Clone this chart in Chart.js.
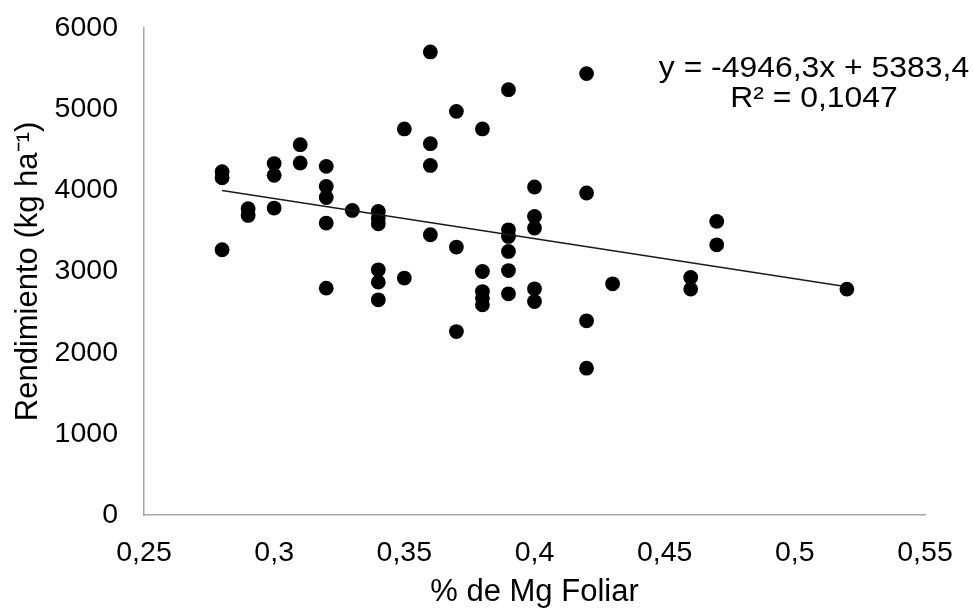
<!DOCTYPE html>
<html>
<head>
<meta charset="utf-8">
<script src="https://cdn.jsdelivr.net/npm/chart.js@4"></script>
<style>
  html, body { margin: 0; padding: 0; background: #fff; }
  #wrap { width: 975px; height: 608px; }
</style>
</head>
<body>
<div id="wrap"><canvas id="c" width="975" height="608"></canvas></div>
<script>
// % Mg foliar (x) and Rendimiento kg/ha (y)
const mgFoliar = [
  0.28, 0.28, 0.28,
  0.29, 0.29,
  0.30, 0.30, 0.30,
  0.31, 0.31,
  0.32, 0.32, 0.32, 0.32, 0.32,
  0.33,
  0.34, 0.34, 0.34, 0.34, 0.34, 0.34,
  0.35, 0.35,
  0.36, 0.36, 0.36, 0.36,
  0.37, 0.37, 0.37,
  0.38, 0.38, 0.38, 0.38, 0.38,
  0.39, 0.39, 0.39, 0.39, 0.39, 0.39,
  0.40, 0.40, 0.40, 0.40, 0.40,
  0.42, 0.42, 0.42, 0.42,
  0.43,
  0.46, 0.46,
  0.47, 0.47,
  0.52
];
const rendimiento = [
  4230, 4155, 3268,
  3773, 3691,
  4330, 4185, 3782,
  4562, 4337,
  4295, 4048, 3912, 3597, 2795,
  3752,
  3740, 3658, 3588, 3021, 2869, 2651,
  4756, 2919,
  5705, 4575, 4307, 3453,
  4973, 3301, 2260,
  4756, 3000, 2753, 2672, 2589,
  5240, 3514, 3432, 3247, 3012, 2725,
  4041, 3678, 3535, 2787, 2630,
  5438, 3967, 2392, 1809,
  2848,
  2926, 2783,
  3617, 3329,
  2783
];
// Linear trend line endpoints
const trendX = [0.28, 0.52];
const trendY = [3998, 2811];
const eqLabels = ["y = -4946,3x + 5383,4", "R² = 0,1047"];
const xTicksMin = 0.25, xTicksMax = 0.55, xStep = 0.05;
const yTicksMin = 0, yTicksMax = 6000, yStep = 1000;

const FONT = '"Liberation Sans", Arial, sans-serif';

const eqPlugin = {
  id: 'eqText',
  afterDatasetsDraw(chart) {
    const ctx = chart.ctx;
    const a = chart.chartArea;
    const cx = a.right - 111;
    ctx.save();
    ctx.fillStyle = '#000';
    ctx.font = '29px ' + FONT;
    ctx.textAlign = 'center';
    ctx.textBaseline = 'alphabetic';
    const lines = [[eqLabels[0], a.top + 49], [eqLabels[1], a.top + 78.5]];
    for (const [t, y] of lines) {
      ctx.save();
      ctx.translate(cx, y);
      ctx.scale(1.1, 1);
      ctx.fillText(t, 0, 0);
      ctx.restore();
    }
    ctx.restore();
  }
};

const pts = mgFoliar.map((x, i) => ({ x: x, y: rendimiento[i] }));
const trend = trendX.map((x, i) => ({ x: x, y: trendY[i] }));

new Chart(document.getElementById('c'), {
  type: 'scatter',
  data: {
    datasets: [
      {
        type: 'line',
        data: trend,
        borderColor: '#1a1a1a',
        borderWidth: 1.5,
        pointRadius: 0,
        fill: false,
        tension: 0
      },
      {
        data: pts,
        backgroundColor: '#000',
        borderColor: '#000',
        borderWidth: 0,
        pointRadius: 7.4,
        pointHoverRadius: 7.4
      }
    ]
  },
  options: {
    responsive: false,
    animation: false,
    devicePixelRatio: 1,
    layout: { padding: { left: 0, right: 50, top: 28, bottom: 0 } },
    plugins: { legend: { display: false }, tooltip: { enabled: false } },
    scales: {
      x: {
        type: 'linear',
        min: xTicksMin, max: xTicksMax,
        grid: { display: false },
        border: { display: true, color: '#a6a6a6', width: 1.5 },
        ticks: {
          stepSize: xStep,
          padding: 13,
          color: '#000',
          font: { family: FONT, size: 28.5 },
          callback: v => String(Math.round(v * 100) / 100).replace('.', ',')
        },
        title: {
          display: true,
          text: '% de Mg Foliar',
          color: '#000',
          font: { family: FONT, size: 31, lineHeight: 1 },
          padding: { top: 0, bottom: 0 }
        },
        afterFit: s => { s.height = 93; s.paddingLeft = 0; s.paddingRight = 0; }
      },
      y: {
        type: 'linear',
        min: yTicksMin, max: yTicksMax,
        grid: { display: false },
        border: { display: true, color: '#a6a6a6', width: 1.5 },
        ticks: {
          stepSize: yStep,
          padding: 18,
          color: '#000',
          font: { family: FONT, size: 28.5 },
          callback: v => String(v)
        },
        title: {
          display: true,
          text: 'Rendimiento (kg ha⁻¹)',
          color: '#000',
          font: { family: FONT, size: 31, lineHeight: 1 },
          padding: { top: 13, bottom: 0 }
        },
        afterFit: s => { s.width = 144; s.paddingTop = 0; s.paddingBottom = 0; }
      }
    }
  },
  plugins: [eqPlugin]
});
</script>
</body>
</html>
